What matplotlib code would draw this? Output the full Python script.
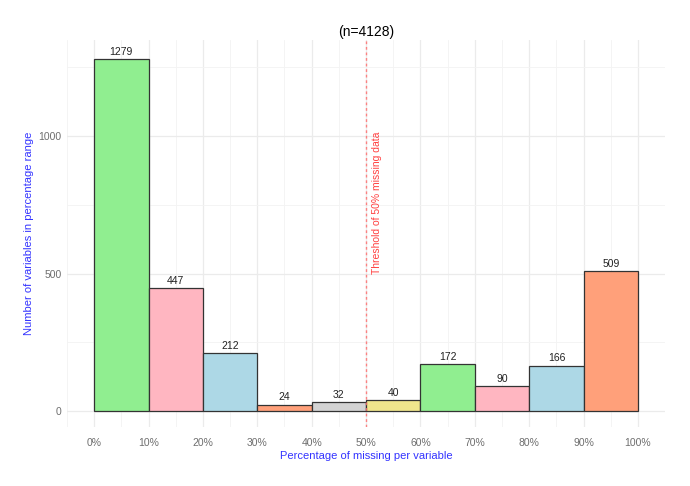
import matplotlib
matplotlib.use("Agg")
import matplotlib.pyplot as plt
from matplotlib.ticker import MultipleLocator

plt.rcParams['font.family'] = ['Liberation Sans', 'DejaVu Sans']

bin_starts = [0, 10, 20, 30, 40, 50, 60, 70, 80, 90]
counts = [1279, 447, 212, 24, 32, 40, 172, 90, 166, 509]
colors = ['#90EE90', '#FFB6C1', '#ADD8E6', '#FFA07A', '#D3D3D3',
          '#F0E68C', '#90EE90', '#FFB6C1', '#ADD8E6', '#FFA07A']
x_ticks = [0, 10, 20, 30, 40, 50, 60, 70, 80, 90, 100]
x_tick_labels = ['0%', '10%', '20%', '30%', '40%', '50%', '60%', '70%', '80%', '90%', '100%']
y_ticks = [0, 500, 1000]
threshold = 50
total_n = 4128

fig = plt.figure(figsize=(6.9, 4.86), dpi=100)
ax = fig.add_axes([0.097, 0.121, 0.867, 0.797])

ax.set_xlim(-5, 105)
ax.set_ylim(-58, 1349)

ax.set_xticks(x_ticks)
ax.set_xticklabels(x_tick_labels)
ax.set_yticks(y_ticks)
ax.xaxis.set_minor_locator(MultipleLocator(5))
ax.yaxis.set_minor_locator(MultipleLocator(250))
ax.grid(which='major', color='#EBEBEB', linewidth=0.9)
ax.grid(which='minor', color='#F3F3F3', linewidth=0.6)
ax.set_axisbelow(True)
for s in ax.spines.values():
    s.set_visible(False)
ax.tick_params(which='both', length=0, labelsize=7.5, labelcolor='#6E6E6E')
ax.tick_params(axis='x', pad=8)
ax.tick_params(axis='y', pad=4)

ax.bar(bin_starts, counts, width=10, align='edge', color=colors,
       edgecolor='#333333', linewidth=0.9, zorder=2)
for xs, c in zip(bin_starts, counts):
    ax.text(xs + 5, c + 8, str(c), ha='center', va='bottom', fontsize=7.5, color='#222222', zorder=3)

ax.axvline(threshold, color='#FF7070', linestyle=(0, (2, 2)), linewidth=1.0, zorder=3, alpha=0.85)
ax.text(threshold + 2.1, 500, 'Threshold of 50% missing data', rotation=90,
        ha='center', va='bottom', color='#FF4040', fontsize=7.5)

ax.set_title('(n=%d)' % total_n, fontsize=10, color='black', pad=3)
ax.set_xlabel('Percentage of missing per variable', color='#3333FF', fontsize=8, labelpad=2)
ax.set_ylabel('Number of variables in percentage range', color='#3333FF', fontsize=8, labelpad=3)

fig.savefig('out.png', dpi=100, facecolor='white')
